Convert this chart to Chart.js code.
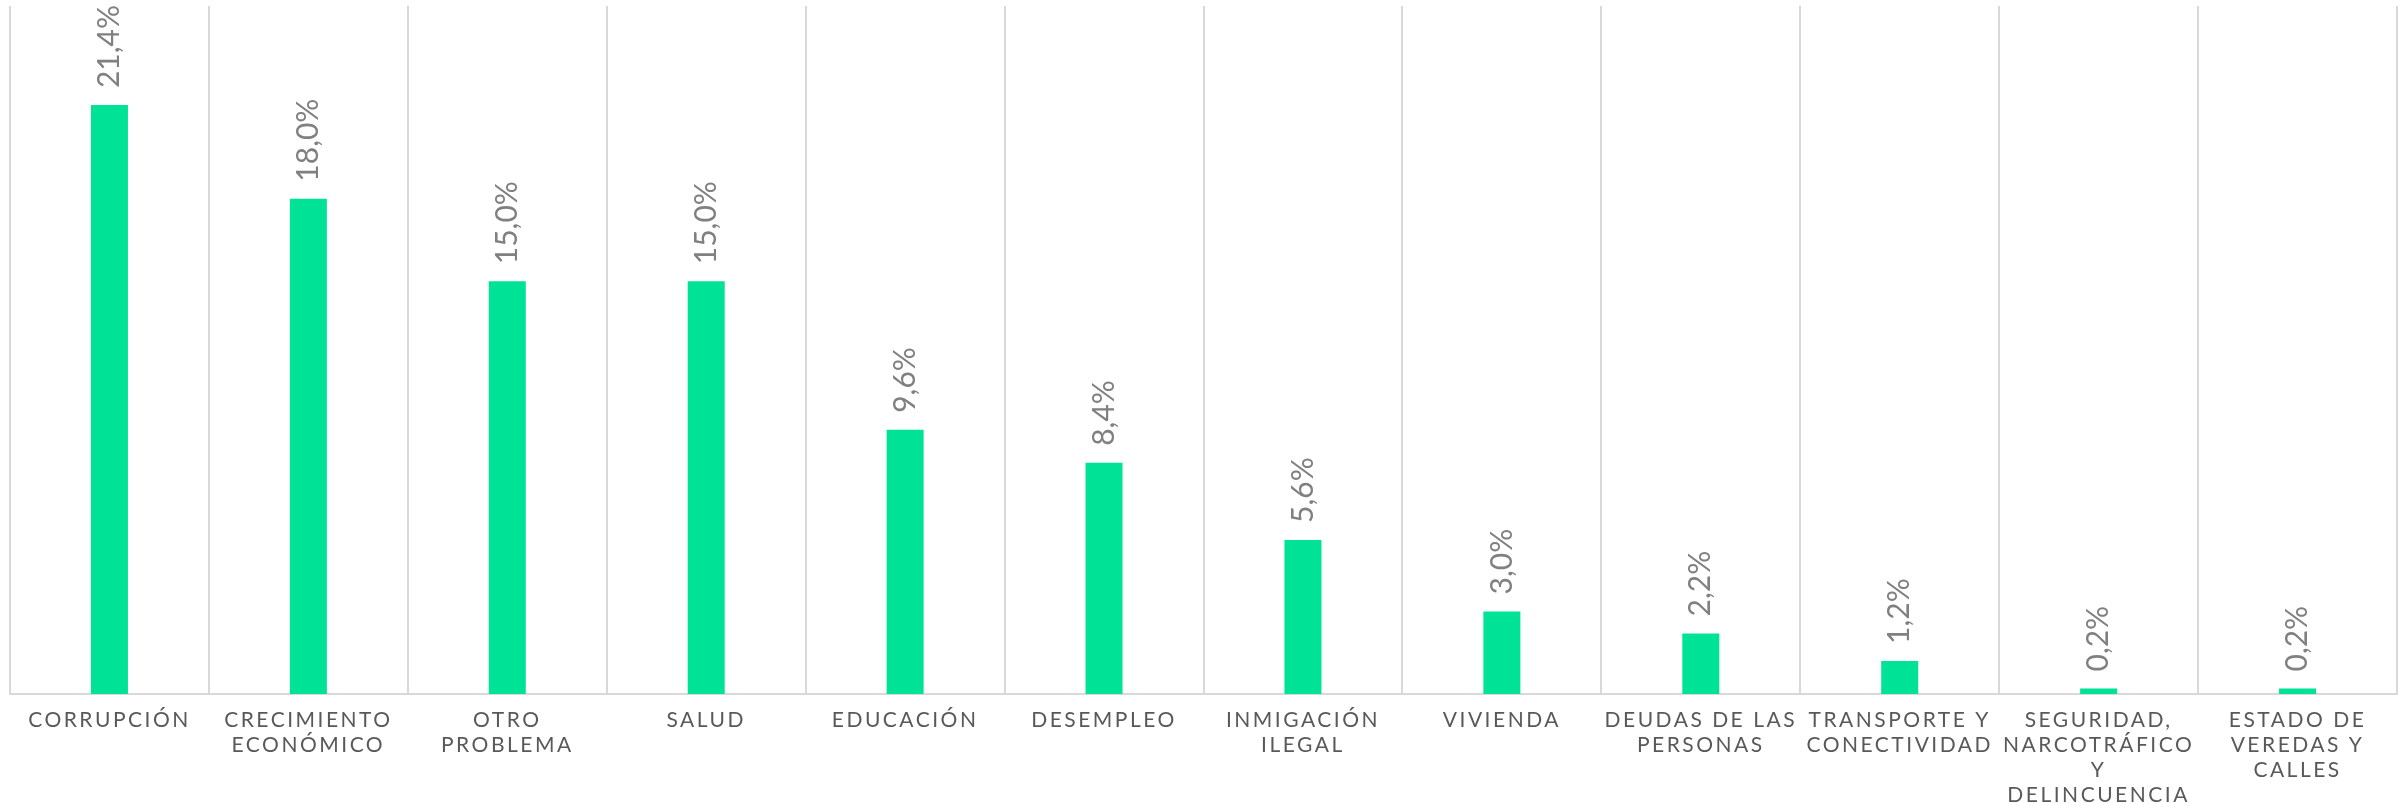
<!DOCTYPE html>
<html>
<head>
<meta charset="utf-8">
<script src="https://cdn.jsdelivr.net/npm/chart.js@4/dist/chart.umd.min.js"></script>
<style>
  html, body { margin: 0; padding: 0; background: #ffffff; }
  #grafico { display: block; }
</style>
</head>
<body>
<canvas id="grafico" width="2407" height="803"></canvas>
<script>
const categorias = [
    'CORRUPCIÓN',
    ['CRECIMIENTO', 'ECONÓMICO'],
    ['OTRO', 'PROBLEMA'],
    'SALUD',
    'EDUCACIÓN',
    'DESEMPLEO',
    ['INMIGACIÓN', 'ILEGAL'],
    'VIVIENDA',
    ['DEUDAS DE LAS', 'PERSONAS'],
    ['TRANSPORTE Y', 'CONECTIVIDAD'],
    ['SEGURIDAD,', 'NARCOTRÁFICO', 'Y', 'DELINCUENCIA'],
    ['ESTADO DE', 'VEREDAS Y', 'CALLES']
];
const porcentajes = [21.4, 18.0, 15.0, 15.0, 9.6, 8.4, 5.6, 3.0, 2.2, 1.2, 0.2, 0.2];

const corBarra = '#00E396';
const corGrade = '#d9d9d9';

// formato con coma decimal
function formatar(valor){
    return valor.toFixed(1).replace('.', ',') + '%';
}

// espaciado de letras solo para las etiquetas del eje
const espacoLetras = {
    id: 'espacoLetras',
    beforeUpdate(chart){ chart.ctx.letterSpacing = '2.5px'; },
    beforeDraw(chart){ chart.ctx.letterSpacing = '2.5px'; },
    beforeDatasetsDraw(chart){ chart.ctx.letterSpacing = '0px'; }
};

// etiquetas de valor giradas encima de cada barra
const rotulos = {
    id: 'rotulos',
    afterDatasetsDraw(chart){
        const ctx = chart.ctx;
        const meta = chart.getDatasetMeta(0);
        ctx.save();
        ctx.letterSpacing = '0px';
        ctx.font = '400 30px Lato, "Noto Sans", sans-serif';
        ctx.fillStyle = '#808080';
        ctx.textAlign = 'left';
        ctx.textBaseline = 'middle';
        meta.data.forEach((barra, i) => {
            ctx.save();
            ctx.translate(barra.x, barra.y - 17);
            ctx.rotate(-Math.PI / 2);
            ctx.fillText(formatar(porcentajes[i]), 0, 0);
            ctx.restore();
        });
        ctx.restore();
    }
};

new Chart(document.getElementById('grafico'), {
    type: 'bar',
    data: {
        labels: categorias,
        datasets: [
            {
                data: porcentajes,
                backgroundColor: corBarra,
                barPercentage: 0.186,
                categoryPercentage: 1
            }
        ]
    },
    options: {
        responsive: false,
        devicePixelRatio: 1,
        animation: false,
        layout: {
            padding: { left: 10, right: 10, top: 6, bottom: -19 }
        },
        plugins: {
            legend: { display: false },
            tooltip: { enabled: false }
        },
        scales: {
            y: {
                display: false,
                min: 0,
                max: 25
            },
            x: {
                grid: {
                    color: corGrade,
                    lineWidth: 2,
                    drawTicks: false
                },
                border: {
                    color: corGrade,
                    width: 2
                },
                ticks: {
                    color: '#595959',
                    maxRotation: 0,
                    autoSkip: false,
                    padding: 14,
                    font: {
                        family: 'Lato, "Noto Sans", sans-serif',
                        size: 21,
                        lineHeight: '25px'
                    }
                }
            }
        }
    },
    plugins: [espacoLetras, rotulos]
});
</script>
</body>
</html>
